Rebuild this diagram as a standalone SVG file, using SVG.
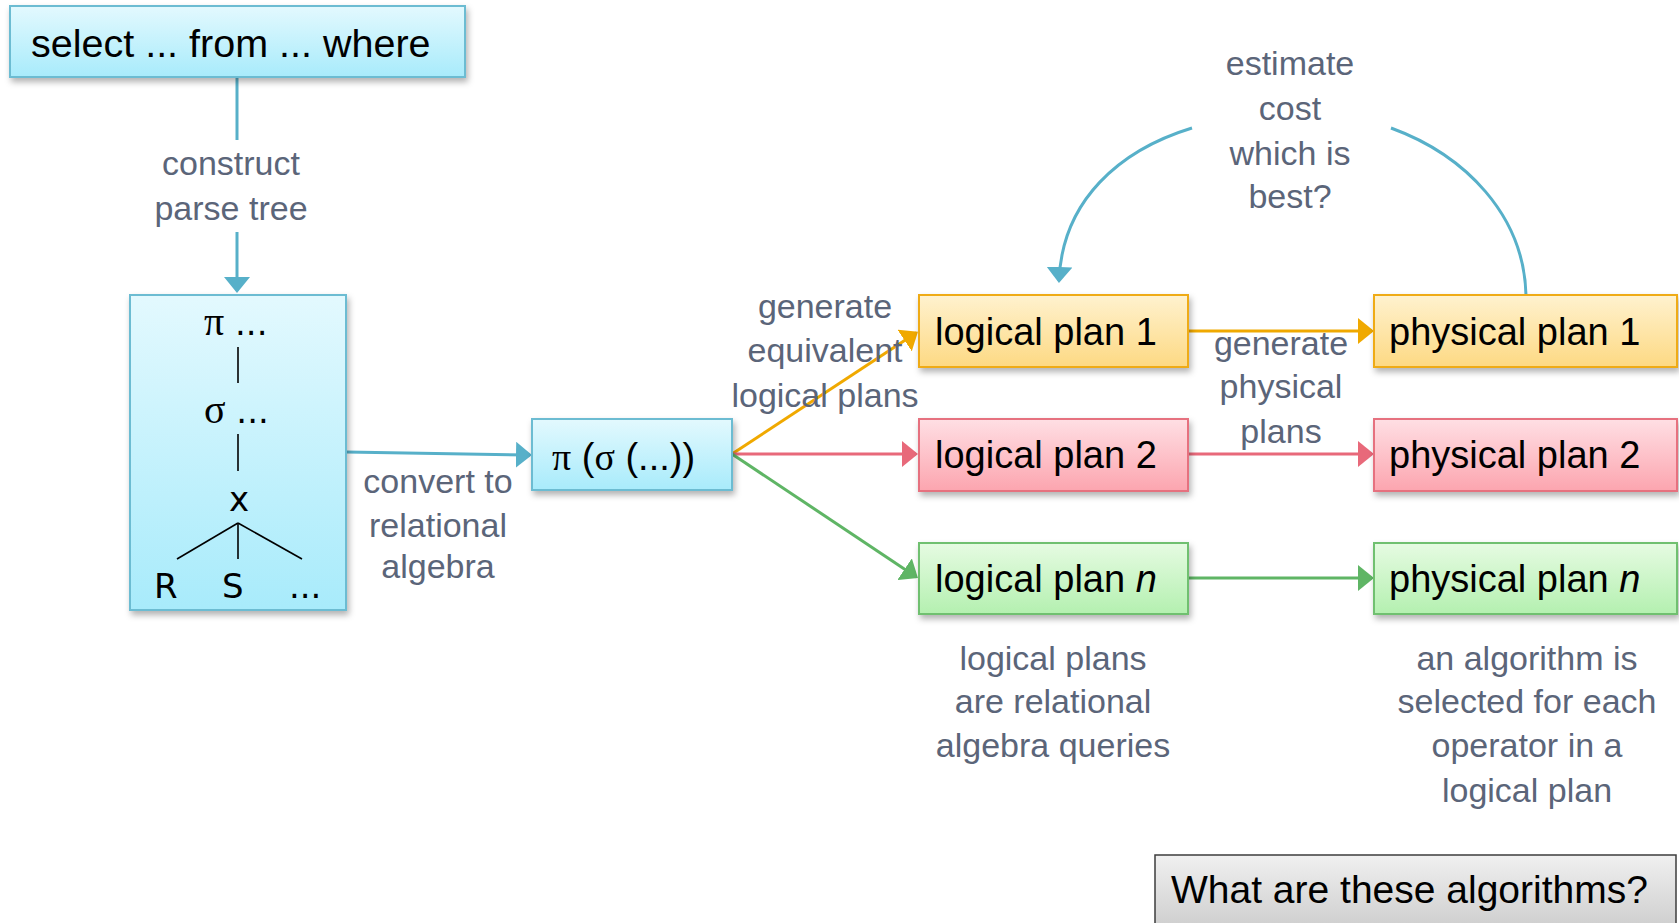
<svg xmlns="http://www.w3.org/2000/svg" width="1679" height="923" viewBox="0 0 1679 923">
<style>
.box{stroke-width:2}
.cyan{fill:url(#gCyan);stroke:#6cbcd2}
.yel{fill:url(#gYel);stroke:#efab13}
.red{fill:url(#gRed);stroke:#e6717f}
.grn{fill:url(#gGrn);stroke:#6fc06f}
.gry{fill:url(#gGry);stroke:#3c3c3c;stroke-width:1.5}
.t{font-family:"Liberation Sans",Arial,sans-serif;font-size:38px;fill:#000}
.tree{font-family:"DejaVu Sans","Liberation Sans",sans-serif;font-size:34px;fill:#000}
.lbl{font-family:"Liberation Sans",Arial,sans-serif;font-size:34px;fill:#5b6579;text-anchor:middle}
.c{fill:none;stroke-width:3}
.cc{stroke:#57b0c9}.co{stroke:#f0a900}.cr{stroke:#e8697a}.cg{stroke:#5fb565}
.tl{stroke:#000;stroke-width:1.6}
</style>
<defs>
<linearGradient id="gCyan" x1="0" y1="0" x2="0" y2="1"><stop offset="0" stop-color="#e3f9fe"/><stop offset="1" stop-color="#a8ebfb"/></linearGradient>
<linearGradient id="gYel" x1="0" y1="0" x2="0" y2="1"><stop offset="0" stop-color="#fff2cf"/><stop offset="1" stop-color="#fdd983"/></linearGradient>
<linearGradient id="gRed" x1="0" y1="0" x2="0" y2="1"><stop offset="0" stop-color="#ffdfe4"/><stop offset="1" stop-color="#fca5af"/></linearGradient>
<linearGradient id="gGrn" x1="0" y1="0" x2="0" y2="1"><stop offset="0" stop-color="#e6fbe2"/><stop offset="1" stop-color="#b4f0b0"/></linearGradient>
<linearGradient id="gGry" x1="0" y1="0" x2="0" y2="1"><stop offset="0" stop-color="#f0f0f0"/><stop offset="1" stop-color="#cbcbcb"/></linearGradient>
<filter id="sh" x="-10%" y="-10%" width="130%" height="140%"><feDropShadow dx="2" dy="4" stdDeviation="3" flood-color="#000" flood-opacity="0.3"/></filter>
<marker id="aC" viewBox="0 0 16 26" refX="14" refY="13" markerWidth="16" markerHeight="26" markerUnits="userSpaceOnUse" orient="auto"><path d="M0,0 L16,13 L0,26 z" fill="#57b0c9"/></marker>
<marker id="aO" viewBox="0 0 16 26" refX="14" refY="13" markerWidth="16" markerHeight="26" markerUnits="userSpaceOnUse" orient="auto"><path d="M0,0 L16,13 L0,26 z" fill="#f0a900"/></marker>
<marker id="aR" viewBox="0 0 16 26" refX="14" refY="13" markerWidth="16" markerHeight="26" markerUnits="userSpaceOnUse" orient="auto"><path d="M0,0 L16,13 L0,26 z" fill="#e8697a"/></marker>
<marker id="aG" viewBox="0 0 16 26" refX="14" refY="13" markerWidth="16" markerHeight="26" markerUnits="userSpaceOnUse" orient="auto"><path d="M0,0 L16,13 L0,26 z" fill="#5fb565"/></marker>
</defs>
<rect width="1679" height="923" fill="#fff"/>

<g id="connectors">
<path class="c cc" d="M237,77 L237,140"/>
<path class="c cc" d="M237,232 L237,291" marker-end="url(#aC)"/>
<path class="c cc" d="M346,452 L530,455" marker-end="url(#aC)"/>
<path class="c co" d="M732,454 L916.3,332.8" marker-end="url(#aO)"/>
<path class="c cr" d="M732,454 L916,454" marker-end="url(#aR)"/>
<path class="c cg" d="M732,454 L916.3,576.9" marker-end="url(#aG)"/>
<path class="c co" d="M1188,331 L1372,331" marker-end="url(#aO)"/>
<path class="c cr" d="M1188,454 L1372,454" marker-end="url(#aR)"/>
<path class="c cg" d="M1188,578 L1372,578" marker-end="url(#aG)"/>
<path class="c cc" d="M1192,128 C1120,150 1062,200 1059,281" marker-end="url(#aC)"/>
<path class="c cc" d="M1391,128 C1465,155 1524,215 1526,295"/>
</g>

<g id="labels">
<text class="lbl" x="231" y="175">construct</text>
<text class="lbl" x="231" y="220">parse tree</text>
<text class="lbl" x="438" y="493">convert to</text>
<text class="lbl" x="438" y="537">relational</text>
<text class="lbl" x="438" y="578">algebra</text>
<text class="lbl" x="825" y="318">generate</text>
<text class="lbl" x="825" y="362">equivalent</text>
<text class="lbl" x="825" y="407">logical plans</text>
<text class="lbl" x="1281" y="355">generate</text>
<text class="lbl" x="1281" y="398">physical</text>
<text class="lbl" x="1281" y="443">plans</text>
<text class="lbl" x="1290" y="75">estimate</text>
<text class="lbl" x="1290" y="120">cost</text>
<text class="lbl" x="1290" y="165">which is</text>
<text class="lbl" x="1290" y="208">best?</text>
<text class="lbl" x="1053" y="670">logical plans</text>
<text class="lbl" x="1053" y="713">are relational</text>
<text class="lbl" x="1053" y="757">algebra queries</text>
<text class="lbl" x="1527" y="670">an algorithm is</text>
<text class="lbl" x="1527" y="713">selected for each</text>
<text class="lbl" x="1527" y="757">operator in a</text>
<text class="lbl" x="1527" y="802">logical plan</text>
</g>

<g id="sql">
<rect class="box cyan" x="10" y="6" width="455" height="71" filter="url(#sh)"/>
<text class="t" x="31" y="57" style="font-size:39.5px">select ... from ... where</text>
</g>

<g id="parsetree">
<rect class="box cyan" x="130" y="295" width="216" height="315" filter="url(#sh)"/>
<text class="tree" x="204" y="335"><tspan font-family="Liberation Serif,serif" font-size="40">π</tspan> ...</text>
<line class="tl" x1="238" y1="347" x2="238" y2="383"/>
<text class="tree" x="204" y="423"><tspan font-family="Liberation Serif,serif" font-size="40">σ</tspan> ...</text>
<line class="tl" x1="238" y1="434" x2="238" y2="471"/>
<text class="tree" x="229" y="511">x</text>
<line class="tl" x1="238" y1="523" x2="177" y2="559"/>
<line class="tl" x1="238" y1="523" x2="238" y2="559"/>
<line class="tl" x1="238" y1="523" x2="302" y2="559"/>
<text class="tree" x="154" y="598">R</text>
<text class="tree" x="222" y="598">S</text>
<text class="tree" x="289" y="598">...</text>
</g>

<g id="ra">
<rect class="box cyan" x="532" y="419" width="200" height="71" filter="url(#sh)"/>
<text class="t" x="552" y="470"><tspan font-family="Liberation Serif,serif">π</tspan> (<tspan font-family="Liberation Serif,serif">σ</tspan> (...))</text>
</g>

<g id="logical1">
<rect class="box yel" x="919" y="295" width="269" height="72" filter="url(#sh)"/>
<text class="t" x="935" y="345">logical plan 1</text>
</g>
<g id="logical2">
<rect class="box red" x="919" y="419" width="269" height="72" filter="url(#sh)"/>
<text class="t" x="935" y="468">logical plan 2</text>
</g>
<g id="logicaln">
<rect class="box grn" x="919" y="543" width="269" height="71" filter="url(#sh)"/>
<text class="t" x="935" y="592">logical plan <tspan font-style="italic">n</tspan></text>
</g>
<g id="physical1">
<rect class="box yel" x="1374" y="295" width="303" height="72" filter="url(#sh)"/>
<text class="t" x="1389" y="345">physical plan 1</text>
</g>
<g id="physical2">
<rect class="box red" x="1374" y="419" width="303" height="72" filter="url(#sh)"/>
<text class="t" x="1389" y="468">physical plan 2</text>
</g>
<g id="physicaln">
<rect class="box grn" x="1374" y="543" width="303" height="71" filter="url(#sh)"/>
<text class="t" x="1389" y="592">physical plan <tspan font-style="italic">n</tspan></text>
</g>

<g id="question">
<rect class="gry" x="1155" y="855" width="521" height="80"/>
<text class="t" x="1171" y="903" style="font-size:39px">What are these algorithms?</text>
</g>
</svg>
